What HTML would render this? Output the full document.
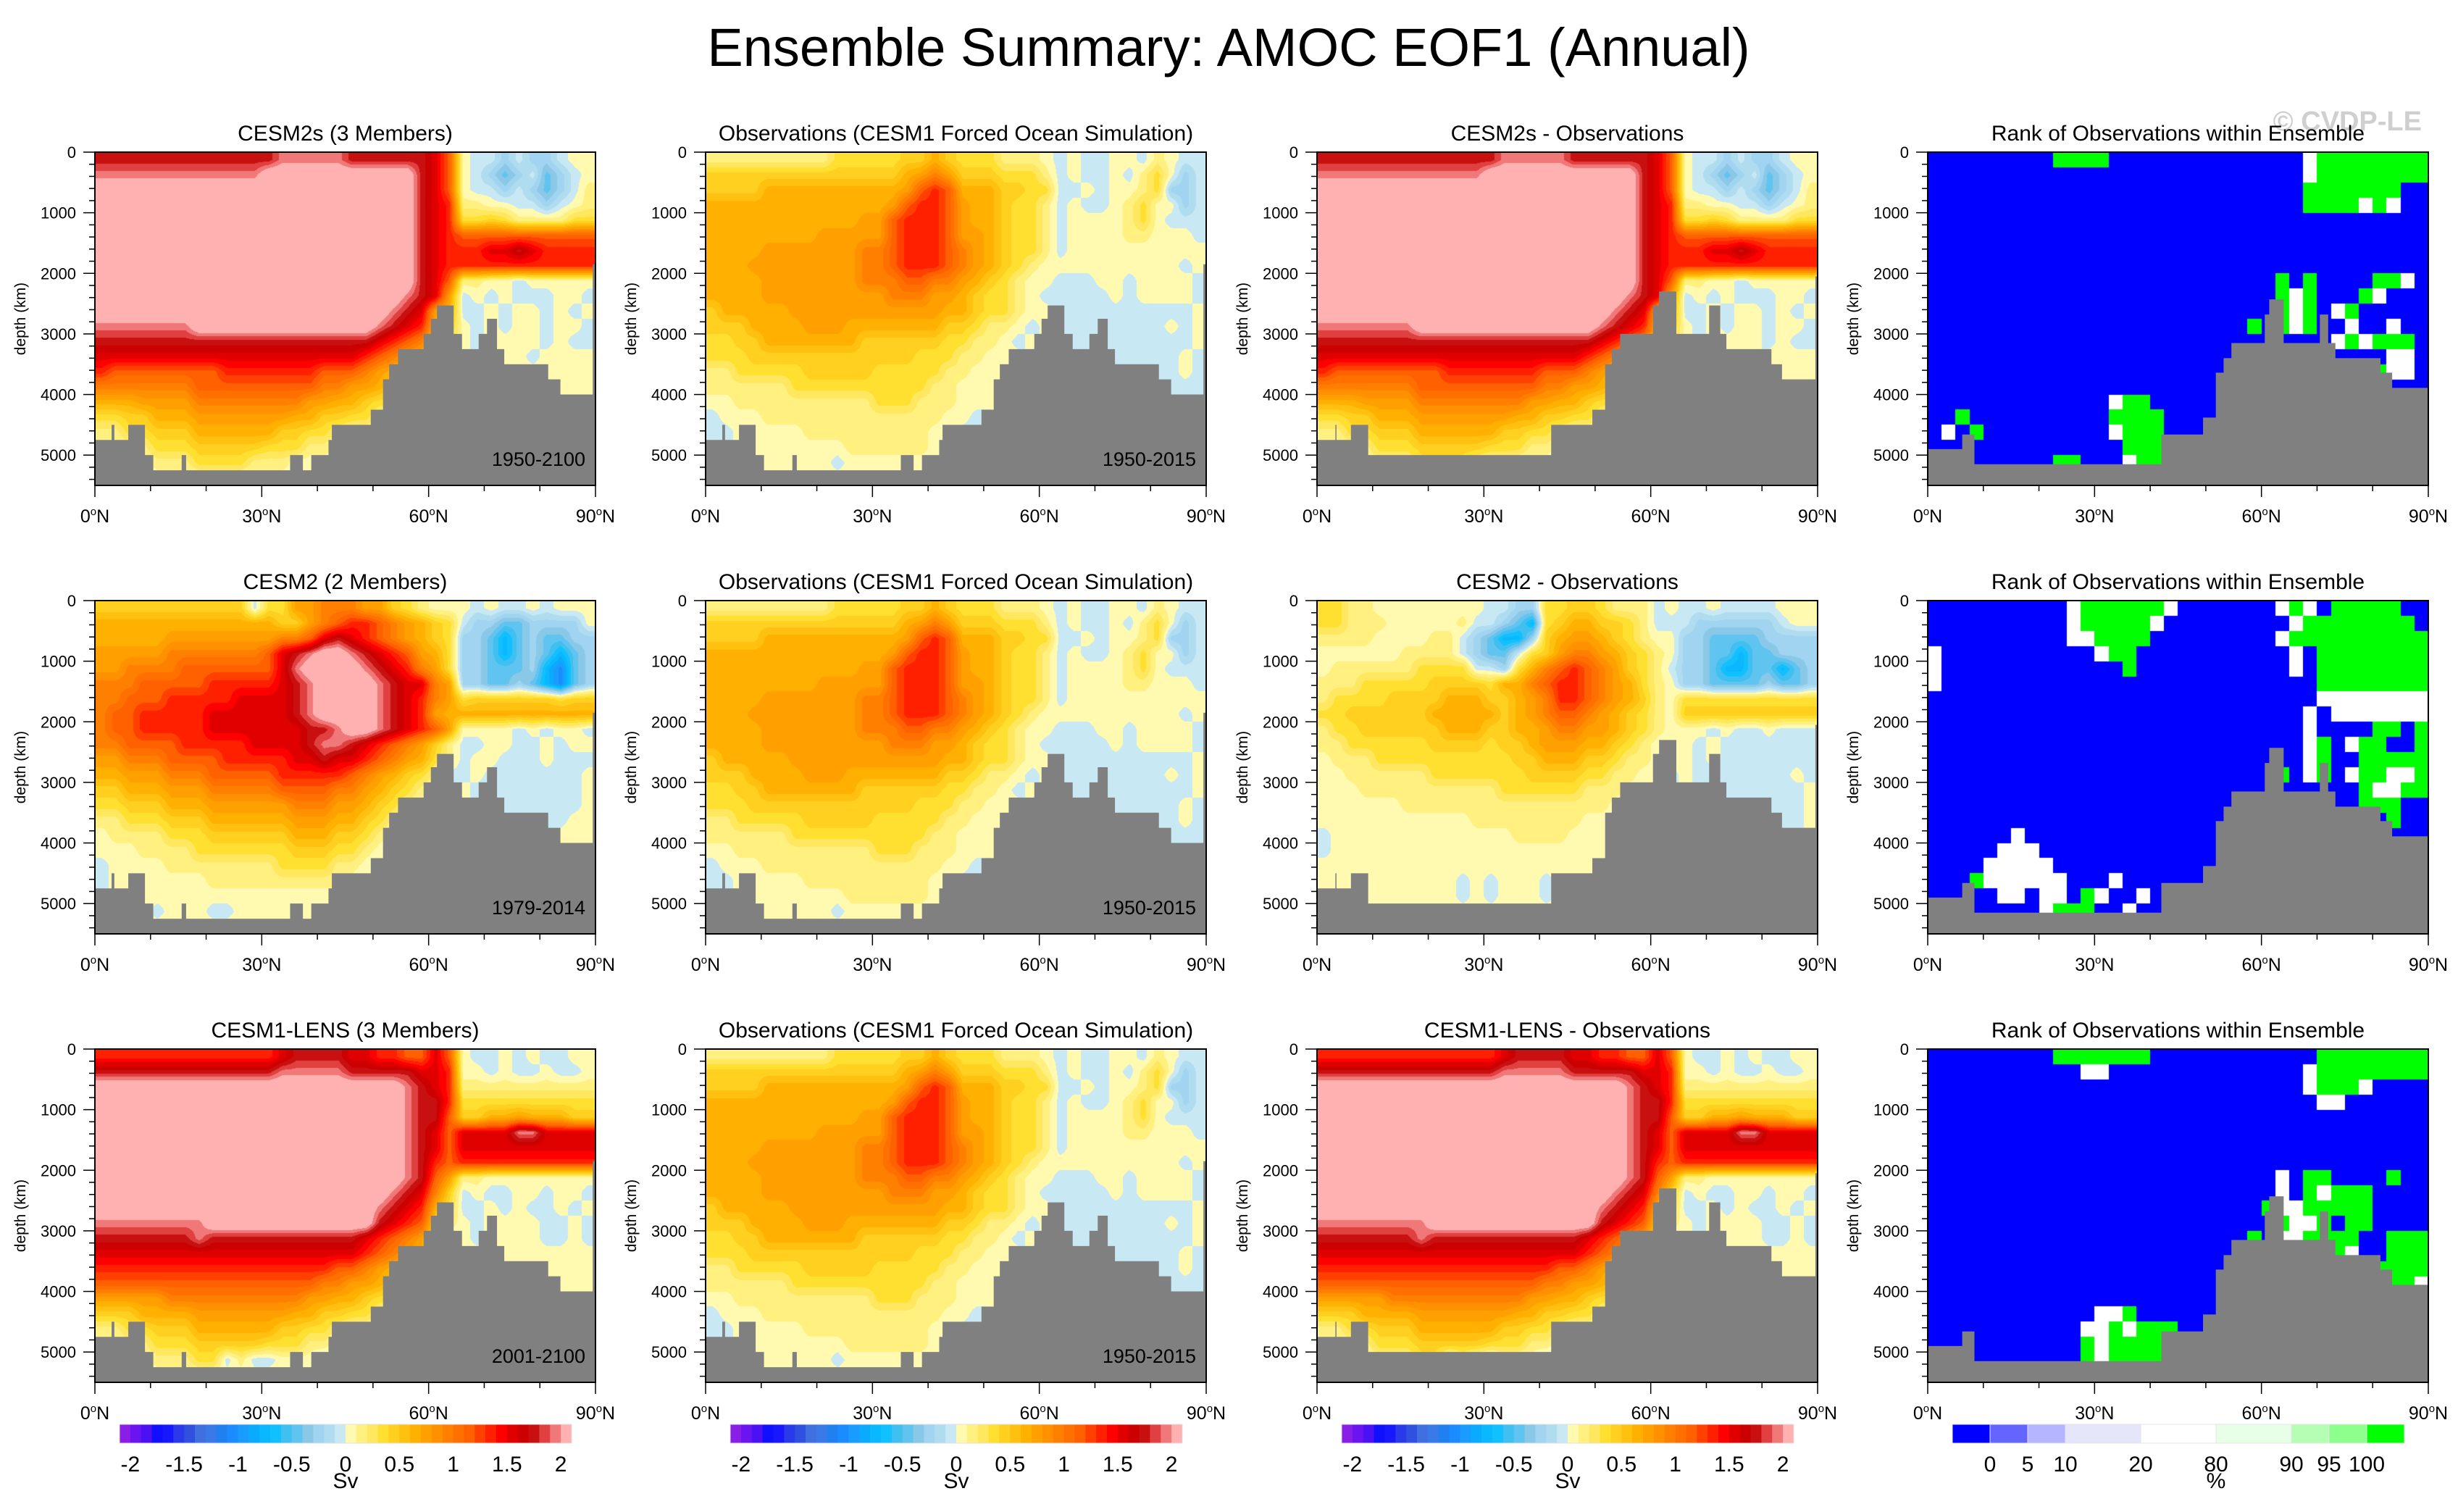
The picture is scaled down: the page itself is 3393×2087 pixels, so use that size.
<!DOCTYPE html>
<html>
<head>
<meta charset="utf-8">
<style>
html,body{margin:0;padding:0;background:#fff;}
#wrap{position:relative;width:3393px;height:2087px;overflow:hidden;background:#fff;font-family:"Liberation Sans",sans-serif;}
canvas{position:absolute;}
#ov{position:absolute;left:0;top:0;}
</style>
</head>
<body>
<div id="wrap">
<svg id="ov" width="3393" height="2087" xmlns="http://www.w3.org/2000/svg">
<text x="1696" y="91" text-anchor="middle" font-family="Liberation Sans, sans-serif" font-size="74" fill="#000">Ensemble Summary: AMOC EOF1 (Annual)</text>
<text x="3343" y="180" text-anchor="end" font-family="Liberation Sans, sans-serif" font-size="38" font-weight="bold" fill="#cfcfcf">© CVDP-LE</text>
</svg>
</div>
<script>
// ---------- data ----------
const svLevelLabels = [-2,-1.5,-1,-0.5,0,0.5,1,1.5,2];
const svColors = ['#8a1ee6','#6a14f0','#4c10f5','#1010ff','#1818ff','#2a3ae8','#3050e0','#4070e0','#3a7ae8','#2080f0','#1a8cff','#1a9cff','#0aaaff','#0ab8ff','#10c0ff','#40c0f0','#60c4f0','#8ac8e8','#a0d4f0','#b0dcf0','#c8e8f4','#fffab0','#fff080','#ffe860','#ffe030','#ffd020','#ffc010','#ffb000','#ffa000','#ff9000','#ff8000','#ff7000','#ff6000','#ff4000','#ff2000','#ff0000','#e00000','#cc0000','#c81010','#e04040','#f07878','#ffb0b0'];
const rankLabels = [0,5,10,20,80,90,95,100];
const rankColors = ['#0000ff','#6464ff','#b4b4ff','#e6e6fa','#ffffff','#e6ffe6','#b4ffb4','#8cff8c','#00ff00'];
const rankUnits = [1,1,1,2,2,2,1,1,1];
const xTicks = [0,30,60,90];
const yTicks = [0,1000,2000,3000,4000,5000];
const charVal = {b:-1.05,c:-0.75,d:-0.45,e:-0.25,f:-0.05,'0':0.05,'1':0.15,'2':0.35,'3':0.45,'4':0.65,'5':0.75,'6':0.95,'7':1.15,'8':1.35,'9':1.55,A:1.75,B:1.95,P:2.2};
const rankCharColor = {B:'#0000ff',W:'#ffffff',G:'#00ff00'};

const topoModelLat = [0,3,3.5,6,9,10.5,15.6,16.4,35.1,37.4,38.9,42.0,42.6,49.6,51.8,52.9,54.5,59.1,60.4,61.5,64.5,66.0,69.0,70.5,72.3,73.6,81.5,83.7,89.5];
const topoModelDepth = [4750,4500,4750,4500,5000,5250,5000,5250,5000,5250,5000,4750,4500,4250,3750,3500,3250,3000,2750,2530,3000,3250,3000,2750,3250,3500,3750,4000,1850];
const topoDiffLat = [0,3.3,3.5,6.1,9.2,42.1,49.5,51.8,53.0,54.5,60.4,61.5,64.6,70.5,72.5,73.6,81.7,83.6,89.6];
const topoDiffDepth = [4750,4500,4750,4500,5000,4500,4250,3500,3250,3000,2530,2300,3000,2530,3000,3250,3500,3750,2050];
const topoRankLat = [0,6.2,8.4,42,49.5,51.8,53.2,54.6,60.6,61.4,64,70.5,72,73.3,81.4,83.5];
const topoRankDepth = [4900,4660,5150,4660,4380,3640,3400,3150,2680,2430,3150,2680,3150,3400,3640,3890];

const cesm2sLeft = [
"AAAAAAAAAAAAABBBBBAAAAAA","BBBBBBBBBBBBPPPPPPPPPPPA","PPPPPPPPPPPPPPPPPPPPPPPA","PPPPPPPPPPPPPPPPPPPPPPPA",
"PPPPPPPPPPPPPPPPPPPPPPPA","PPPPPPPPPPPPPPPPPPPPPPPA","PPPPPPPPPPPPPPPPPPPPPPPA","PPPPPPPPPPPPPPPPPPPPPPPA",
"PPPPPPPPPPPPPPPPPPPPPPPA","PPPPPPPPPPPPPPPPPPPPPPBA","PPPPPPPPPPPPPPPPPPPPPBA9","BBBBBBBPPPPPPPPPPPPPBA98",
"AAAAAAAAAAAAAAAAAAAA9876","999999999999999999987654","877777777888888877765432","666666677777777766554321",
"444555566666666554432210","223344455555554433221100","112233344444433221100f00","001122233333222110000f00",
"000011122221110000f00000","000000000000000000000000"];
const cesm2sRight = [
"970ffefeef00","970fedefdef0","970ffefedef1","981100ffef01","982232111122","987777777777",
"988899A98888","988888888888","971100f00000","95f0f0fff00f","54ff0f00f0f0","430f0f00f00f",
"320f0000f0ff","210f000f0000","100000000000","000000000000"];

const cesm1Left = [
"88888888888889AAAA998877","AAAAAAAAAAAAABBBBBAAAAA9","PPPPPPPPPPPPPPPPPPPPPPBA","PPPPPPPPPPPPPPPPPPPPPPBA",
"PPPPPPPPPPPPPPPPPPPPPPBA","PPPPPPPPPPPPPPPPPPPPPPBA","PPPPPPPPPPPPPPPPPPPPPPBA","PPPPPPPPPPPPPPPPPPPPPPBA",
"PPPPPPPPPPPPPPPPPPPPPPBA","PPPPPPPPPPPPPPPPPPPPPBA9","PPPPPPPPPPPPPPPPPPPPBA98","BBBBBBBBPPPPPPPPPPPPA987",
"AAAAAAABAAAAAAAAAAA98765","999999999999999999987654","888888888888888887765432","777777777777777766554321",
"555556666666666554432210","333444455555554433221100","112233344444433221100f00","0011222333332221100ff000",
"000011122f1ff000ff000000","000000000000000000000000"];
const cesm1Right = [
"970ff0f0ff00","9800f0ff0ff0","981111111111","A82222222222","A73344544433","979999BB9999",
"979999999999","878888888888","751100000000","63f0ff00f00f","42ff0f0ff0f0","310f0000ff0f",
"200f0000ff0f","100000000000","000000000000"];

const obsRows = [
"1111111112222233432221110f0ff00f10ff","3333333333333345653332221f0ff0f120ef","3333444444444457874443322ff0f0012eef",
"4444444444444578875443221f0ff01200ef","4444444444455788875443221f0000120fff","4444444455555788875543221f000011000f",
"4444555555566788876543221f0000000000","4445555555566788876543210000000000f0","4444555555566677665432100fff00f0000f",
"444455555555566655432210fffff0f0000f","3444445555555555544322100ffffffffff0","33344445554444444332110f0ffffffff0f0",
"2233444444433333322110f0fffffffffff0","22233333333333322211000fffffffffff0f","11222223333322222110000f0fffffffff0f",
"1111112222222222110000ffff0fffffffff","0011111111112221110000ff0fff000000ff","f000111111111111100ff0ffff0000000000",
"ff0000011111111100fff000000000000000","ff0000000011111100f00000000000000000","fff000000f0000000f000000000000000000",
"000000000000000000000000000000000000"];

const cesm2Left = [
"33333333333f22556665532100","44444444444443356788765432","44444555555556679A98765432","55555666666679ABPPBA987542",
"55666677777779BPPPPBA98652","66677777888889ABPPPPBA9965","66777888889999ABPPPPBA9865","67788888999999ABPPPPBA9854",
"677888889999999AABPPBA9875","667777888889999ABBA9876531","5566677778888899A998765421","4455566677777888887654321f",
"3344455566666777766543210f","2233344455555566655432100f","1122233344444455544321000f","0111122233333344433210000f",
"0001111222222233322100000f","f000011111111222211000000f","f00000001111111111000f000f","f0000000000000000000f000ff",
"0000f000ff0000000000000000","00000000000000000000000000"];
const cesm2Right = [
"0f0ff0f000","feeddeeee0","eedcdeddee","eedcdedcde","eedddecbde","eeddedcbde",
"2333333233","4444444444","0000f0f00f","ff00ff0f00","f00fff0fff","f0fffffff0",
"0ffffffff0","0ffffffff0","0fffffff00","000000000"];

const diff2Left = [
"221100000000ffee22332111f0","22111000001ffedc23443321ff","1111000011fedcce3455432100","0000001111feddf23566543210",
"01111112222ffe24678765321f","11122222333324467887654210","12222333344433456887654310","22333333444443456776543210",
"12233333344433445665543210","11222222333323345554432100","01112222222222334443321100","0011111122222223333221100f",
"0001111111111222222111000f","000000111111111111111000ff","00000000000111111110000fff","f0000000000000111100000fff",
"f000000000000000000000ffff","00000000000000000000000fff","0000000000f0f000f0f000ffff","0000000000f0f000f0f000ffff",
"00000000000000000000000000","00000000000000000000000000"];
const diff2Right = [
"ff0ffff000","feeeeeef00","eeddddeeee","eeddcddeee","eedccddcde","eeddddedde",
"2222222222","3333333333","00f0ff0fff","0f0fffffff","0f0fffffff","0fffffff0f","0ffffffff0"];

const rank1Rows = [
"BBBBBBBBBGGGGBBBBBBBBBBBBBBWGGGGGGGG","BBBBBBBBBBBBBBBBBBBBBBBBBBBWGGGGGGGG","BBBBBBBBBBBBBBBBBBBBBBBBBBBGGGGGGGBB",
"BBBBBBBBBBBBBBBBBBBBBBBBBBBGGGGWGWBB","BBBBBBBBBBBBBBBBBBBBBBBBBBBBBBBBBBBB","BBBBBBBBBBBBBBBBBBBBBBBBBBBBBBBBBBBB",
"BBBBBBBBBBBBBBBBBBBBBBBBBBBBBBBBBBBB","BBBBBBBBBBBBBBBBBBBBBBBBBBBBBBBBBBBB","BBBBBBBBBBBBBBBBBBBBBBBBBGBGBBBBGGWB",
"BBBBBBBBBBBBBBBBBBBBBBBBBGWGBBBGWBBB","BBBBBBBBBBBBBBBBBBBBBBBBBGWGBWGBBBBB","BBBBBBBBBBBBBBBBBBBBBBBGBGWGBBWBBWBB",
"BBBBBBBBBBBBBBBBBBBBBBBBBBBBBWGWGGGB","BBBBBBBBBBBBBBBBBBBBBBBBBBBBBBBBBWWB","BBBBBBBBBBBBBBBBBBBBBBBBBBBBBBBBGWWB",
"BBBBBBBBBBBBBBBBBBBBBBBBBBBBBBBBBBBB","BBBBBBBBBBBBBWGGBBBBBBBBBBBBBBBBBBBB","BBGBBBBBBBBBBGGGGBBBBBBBBBBBBBBBBBBB",
"BWBGBBBBBBBBBWGGGBBBBBBBBBBBBBBBBBBB","BBBBBBBBBBBBBBGGGBBBBBBBBBBBBBBBBBBB","BBBBBBBBBGGBBBWGGBBBBBBBBBBBBBBBBBBB",
"BBBBBBBBBBBBBBBBBBBBBBBBBBBBBBBBBBBB"];
const rank2Rows = [
"BBBBBBBBBBWGGGGGGWBBBBBBBWGWBGGGGGBB","BBBBBBBBBBWGGGGGWBBBBBBBBBWGGGGGGGGB","BBBBBBBBBBWWGGGGBBBBBBBBBWGGGGGGGGGG",
"WBBBBBBBBBBBWGGBBBBBBBBBBBWBGGGGGGGG","WBBBBBBBBBBBBBGBBBBBBBBBBBWBGGGGGGGG","WBBBBBBBBBBBBBBBBBBBBBBBBBBBGGGGGGGG",
"BBBBBBBBBBBBBBBBBBBBBBBBBBBBWWWWWWWW","BBBBBBBBBBBBBBBBBBBBBBBBBBBWBWWWWWWW","BBBBBBBBBBBBBBBBBBBBBBBBBBBWBBBBGGBG",
"BBBBBBBBBBBBBBBBBBBBBBBBBBBWGBWGGBBG","BBBBBBBBBBBBBBBBBBBBBBBBBBBWGBBGGGGG","BBBBBBBBBBBBBBBBBBBBBBBBBGBWGBWGGWWG",
"BBBBBBBBBBBBBBBBBBBBBBBBBBBBBBBGWWGG","BBBBBBBBBBBBBBBBBBBBBBBBBBBBBBBGGGBB","BBBBBBBBBBBBBBBBBBBBBBBBBBBBBBBBBGBB",
"BBBBBBWBBBBBBBBBBBBBBBBBBBBBBBBBBBBB","BBBBBWWWBBBBBBBBBBBBBBBBBBBBBBBBBBBB","BBBBWWWWWBBBBBBBBBBBBBWBBBBBBBBBBBBB",
"BBBGWWWWWWBBBWBBBBBBBGGBBBBBBBBBBBBB","BBBBBWWBWWBGWBBWBWGBBBBBBBBBBBBBBBBB","BBBBBBBBWGGGBBWBBGBBBBBBBBBBBBBBBBBB",
"BBBBBBBBBBBBBBBBBBBBBBBBBBBBBBBBBBBB"];
const rank3Rows = [
"BBBBBBBBBGGGGGGGBBBBBBBBBBBBGGGGGGGG","BBBBBBBBBBBWWBBBBBBBBBBBBBBWGGGGGGGG","BBBBBBBBBBBBBBBBBBBBBBBBBBBWGGGWBBBB",
"BBBBBBBBBBBBBBBBBBBBBBBBBBBBWWBBBBBB","BBBBBBBBBBBBBBBBBBBBBBBBBBBBBBBBBBBB","BBBBBBBBBBBBBBBBBBBBBBBBBBBBBBBBBBBB",
"BBBBBBBBBBBBBBBBBBBBBBBBBBBBBBBBBBBB","BBBBBBBBBBBBBBBBBBBBBBBBBBBBBBBBBBBB","BBBBBBBBBBBBBBBBBBBBBBBBBWBGGBBBBGBB",
"BBBBBBBBBBBBBBBBBBBBBBBBBWBGWGGGBBBB","BBBBBBBBBBBBBBBBBBBBBBBBGWWGGGGGBBBB","BBBBBBBBBBBBBBBBBBBBBBBBBGWWGBGGBBBB",
"BBBBBBBBBBBBBBBBBBBBBBBGBWWGGGGBBGGG","BBBBBBBBBBBBBBBBBBBBBBBBBWBBBGWBBGGG","BBBBBBBBBBBBBBBBBBBBBBBBBBBBBBBBGGGG",
"BBBBBBBBBBBBBBBBBBBBBBBBBBBBBBBBBGGW","BBBBBBBBBBBBBBBBBBBBBBBBBBBBBBBBBGGB","BBBBBBBBBBBBWWGBBBBBBWBBBBBBBBBBBBBB",
"BBBBBBBBBBBWWGWGGGBBBBBBBBBBBBBBBBBB","BBBBBBBBBBBGWGGGGGBBBBBBBBBBBBBBBBBB","BBBBBBBBBBBGWGGGGBBBBBBBBBBBBBBBBBBB",
"BBBBBWBBBBBGWWWGBGBBBBBBBBBBBBBBBBBB"];

// ---------- layout ----------
const NC = 36, NR = 22, MAXD = 5500;
const colX = [131, 974, 1818, 2661];
const rowY = [210, 829, 1448];
const PW = 691, PH = 460;

function padRow(s, n){ if(s.length >= n) return s.slice(0, n); return s + s[s.length-1].repeat(n - s.length); }
function gridFrom(left, right, nLeft){
  const g = [];
  for(let r=0;r<NR;r++){
    let s;
    if(right){
      const l = left[Math.min(r, left.length-1)], rr = right[Math.min(r, right.length-1)];
      s = padRow(l, nLeft) + padRow(rr, NC - nLeft);
    } else s = padRow(left[Math.min(r, left.length-1)], NC);
    g.push(s.split(''));
  }
  return g;
}
function numGrid(g){ return g.map(row => row.map(ch => (ch in charVal) ? charVal[ch] : 0.05)); }

const grids = {
  A: numGrid(gridFrom(cesm2sLeft, cesm2sRight, 24)),
  B: numGrid(gridFrom(cesm2Left, cesm2Right, 26)),
  C: numGrid(gridFrom(cesm1Left, cesm1Right, 24)),
  O: numGrid(gridFrom(obsRows, null, 0)),
  D2: numGrid(gridFrom(diff2Left, diff2Right, 26)),
  R1: gridFrom(rank1Rows, null, 0),
  R2: gridFrom(rank2Rows, null, 0),
  R3: gridFrom(rank3Rows, null, 0)
};

const panels = [
  {r:0,c:0,title:'CESM2s (3 Members)',years:'1950-2100',g:'A',type:'sv',topo:'model',name:'cesm2s'},
  {r:0,c:1,title:'Observations (CESM1 Forced Ocean Simulation)',years:'1950-2015',g:'O',type:'sv',topo:'model',name:'observations-row1'},
  {r:0,c:2,title:'CESM2s - Observations',years:'',g:'A',type:'sv',topo:'diff',name:'cesm2s-minus-obs'},
  {r:0,c:3,title:'Rank of Observations within Ensemble',years:'',g:'R1',type:'rank',topo:'rank',name:'rank-cesm2s'},
  {r:1,c:0,title:'CESM2 (2 Members)',years:'1979-2014',g:'B',type:'sv',topo:'model',name:'cesm2'},
  {r:1,c:1,title:'Observations (CESM1 Forced Ocean Simulation)',years:'1950-2015',g:'O',type:'sv',topo:'model',name:'observations-row2'},
  {r:1,c:2,title:'CESM2 - Observations',years:'',g:'D2',type:'sv',topo:'diff',name:'cesm2-minus-obs'},
  {r:1,c:3,title:'Rank of Observations within Ensemble',years:'',g:'R2',type:'rank',topo:'rank',name:'rank-cesm2'},
  {r:2,c:0,title:'CESM1-LENS (3 Members)',years:'2001-2100',g:'C',type:'sv',topo:'model',name:'cesm1-lens'},
  {r:2,c:1,title:'Observations (CESM1 Forced Ocean Simulation)',years:'1950-2015',g:'O',type:'sv',topo:'model',name:'observations-row3'},
  {r:2,c:2,title:'CESM1-LENS - Observations',years:'',g:'C',type:'sv',topo:'diff',name:'cesm1-lens-minus-obs'},
  {r:2,c:3,title:'Rank of Observations within Ensemble',years:'',g:'R3',type:'rank',topo:'rank',name:'rank-cesm1-lens'}
];
const topos = {model:[topoModelLat, topoModelDepth], diff:[topoDiffLat, topoDiffDepth], rank:[topoRankLat, topoRankDepth]};

const SVGNS = 'http://www.w3.org/2000/svg';
const svg = document.getElementById('ov');
const wrap = document.getElementById('wrap');
function mk(tag, attrs, parent){
  const e = document.createElementNS(SVGNS, tag);
  for(const k in attrs) e.setAttribute(k, attrs[k]);
  (parent || svg).appendChild(e);
  return e;
}
function hexRGB(h){ return [parseInt(h.slice(1,3),16), parseInt(h.slice(3,5),16), parseInt(h.slice(5,7),16)]; }
const svRGB = svColors.map(hexRGB);
function svIndex(v){ let i = Math.floor((v + 2) * 10 + 1e-9) + 1; return Math.max(0, Math.min(svColors.length-1, i)); }

panels.forEach(p => {
  const x0 = colX[p.c], y0 = rowY[p.r];
  const xs = lat => x0 + lat / 90 * PW;
  const ys = d => y0 + d / MAXD * PH;

  const cv = document.createElement('canvas');
  cv.width = PW; cv.height = PH;
  cv.style.left = x0 + 'px'; cv.style.top = y0 + 'px';
  
  
  wrap.insertBefore(cv, svg);
  const ctx = cv.getContext('2d');
  const img = ctx.createImageData(PW, PH);
  const g = grids[p.g];
  for(let py=0; py<PH; py++){
    const depth = (py + 0.5) / PH * MAXD;
    for(let px=0; px<PW; px++){
      const lat = (px + 0.5) / PW * 90;
      let rgb;
      if(p.type === 'rank'){
        const ci = Math.min(NC-1, Math.floor(lat / 90 * NC)), ri = Math.min(NR-1, Math.floor(depth / MAXD * NR));
        rgb = hexRGB(rankCharColor[g[ri][ci]] || '#0000ff');
      } else {
        let gx = lat / 90 * NC - 0.5, gy = depth / MAXD * NR - 0.5;
        gx = Math.max(0, Math.min(NC-1, gx)); gy = Math.max(0, Math.min(NR-1, gy));
        const c0 = Math.min(NC-2, Math.floor(gx)), r0 = Math.min(NR-2, Math.floor(gy));
        const fx = gx - c0, fy = gy - r0;
        const v = g[r0][c0]*(1-fx)*(1-fy) + g[r0][c0+1]*fx*(1-fy) + g[r0+1][c0]*(1-fx)*fy + g[r0+1][c0+1]*fx*fy;
        rgb = svRGB[svIndex(v)];
      }
      const k = (py * PW + px) * 4;
      img.data[k] = rgb[0]; img.data[k+1] = rgb[1]; img.data[k+2] = rgb[2]; img.data[k+3] = 255;
    }
  }
  ctx.putImageData(img, 0, 0);

  const [tl, td] = topos[p.topo];
  let d = 'M' + xs(0) + ' ' + ys(MAXD);
  for(let i=0;i<tl.length;i++){
    const a = tl[i], b = (i+1 < tl.length) ? tl[i+1] : 90;
    d += ' L' + xs(a) + ' ' + ys(td[i]) + ' L' + xs(b) + ' ' + ys(td[i]);
  }
  d += ' L' + xs(90) + ' ' + ys(MAXD) + ' Z';
  const topo = mk('path', {d: d, fill: '#808080', stroke: 'none'});
  
  

  const fr = mk('rect', {x: x0, y: y0, width: PW, height: PH, fill: 'none', stroke: '#000', 'stroke-width': 2});
  
  

  const t = mk('text', {x: x0 + PW/2, y: y0 - 16, 'text-anchor': 'middle', 'font-size': 30, 'font-family': 'Liberation Sans, sans-serif'});
  t.textContent = p.title;
  
  

  if(p.years){
    const yt = mk('text', {x: x0 + PW - 14, y: y0 + PH*0.92 + 10, 'text-anchor': 'end', 'font-size': 27, 'font-family': 'Liberation Sans, sans-serif'});
    yt.textContent = p.years;
    
    
  }

  for(let dd=0; dd<=5400; dd+=200){
    const major = dd % 1000 === 0;
    const tk = mk('line', {x1: x0 - (major ? 16 : 8), x2: x0, y1: ys(dd), y2: ys(dd), stroke: '#000', 'stroke-width': 1.5});
    
    
  }
  yTicks.forEach(v => {
    const yl = mk('text', {x: x0 - 26, y: ys(v) + 8, 'text-anchor': 'end', 'font-size': 22, 'font-family': 'Liberation Sans, sans-serif'});
    yl.textContent = v;
    
    
  });
  const yt2 = mk('text', {x: x0 - 96, y: y0 + PH/2, 'text-anchor': 'middle', 'font-size': 21, 'font-family': 'Liberation Sans, sans-serif', transform: 'rotate(-90 ' + (x0 - 96) + ' ' + (y0 + PH/2) + ')'});
  yt2.textContent = 'depth (km)';
  
  

  for(let lat=0; lat<=90; lat+=10){
    const major = lat % 30 === 0;
    const tk = mk('line', {x1: xs(lat), x2: xs(lat), y1: y0 + PH, y2: y0 + PH + (major ? 16 : 8), stroke: '#000', 'stroke-width': 1.5});
    
    
  }
  xTicks.forEach(v => {
    const xl = mk('text', {x: xs(v), y: y0 + PH + 51, 'text-anchor': 'middle', 'font-size': 25, 'font-family': 'Liberation Sans, sans-serif'});
    
    
    const t1 = mk('tspan', {}, xl); t1.textContent = String(v);
    const t2 = mk('tspan', {dy: -10, 'font-size': 15}, xl); t2.textContent = 'o';
    const t3 = mk('tspan', {dy: 10}, xl); t3.textContent = 'N';
  });
});

const cbY = 1966, cbH = 26, cbW = 624;
[0,1,2].forEach(c => {
  const x0 = colX[c] + 34;
  const bw = cbW / svColors.length;
  svColors.forEach((col, i) => {
    const r = mk('rect', {x: x0 + i*bw, y: cbY, width: bw + 0.5, height: cbH, fill: col});
    
    
  });
  const fr = mk('rect', {x: x0, y: cbY, width: cbW, height: cbH, fill: 'none', stroke: '#e0e0e0', 'stroke-width': 1});
  
  
  svLevelLabels.forEach(v => {
    const k = Math.round((v + 2) * 10) + 1;
    const tl = mk('text', {x: x0 + k*bw, y: cbY + cbH + 39, 'text-anchor': 'middle', 'font-size': 30, 'font-family': 'Liberation Sans, sans-serif'});
    tl.textContent = v;
    
    
  });
  const u = mk('text', {x: x0 + 21*bw, y: 2054, 'text-anchor': 'middle', 'font-size': 30, 'font-family': 'Liberation Sans, sans-serif'});
  u.textContent = 'Sv';
  
  
});
(function(){
  const x0 = colX[3] + 34;
  const totalU = rankUnits.reduce((a,b)=>a+b,0);
  const uw = cbW / totalU;
  let acc = 0;
  const bounds = [];
  rankColors.forEach((col, i) => {
    const r = mk('rect', {x: x0 + acc*uw, y: cbY, width: rankUnits[i]*uw, height: cbH, fill: col, stroke: '#e4e4e4', 'stroke-width': 1});
    
    
    acc += rankUnits[i];
    bounds.push(acc);
  });
  rankLabels.forEach((v, i) => {
    const tl = mk('text', {x: x0 + bounds[i]*uw, y: cbY + cbH + 39, 'text-anchor': 'middle', 'font-size': 30, 'font-family': 'Liberation Sans, sans-serif'});
    tl.textContent = v;
    
    
  });
  const u = mk('text', {x: x0 + bounds[3]*uw + uw*2, y: 2054, 'text-anchor': 'middle', 'font-size': 30, 'font-family': 'Liberation Sans, sans-serif'});
  u.textContent = '%';
  
  
})();
</script>
</body>
</html>
